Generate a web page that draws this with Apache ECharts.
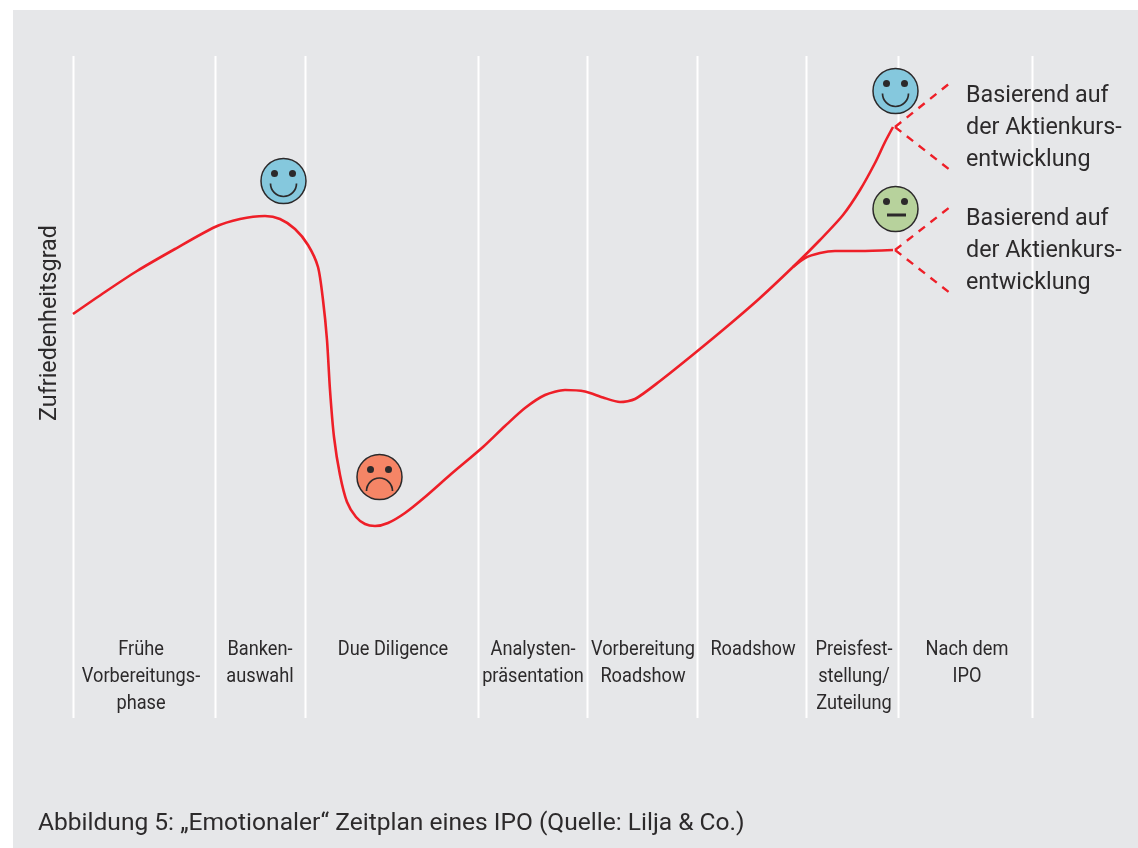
<!DOCTYPE html>
<html><head><meta charset="utf-8">
<style>html,body{margin:0;padding:0;background:#fff}#c{width:1138px;height:848px}</style>
<script src="https://cdn.jsdelivr.net/npm/echarts@6/dist/echarts.min.js"></script>
</head><body><div id="c"></div>
<script>
// Values: x = position along the timeline, y = satisfaction level
const mainCurve = [[0,404],[32,426],[64,447],[102,469],[142,491],[167,499],[192,502],[207,499],[222,489],[235,473],[245,451],[250,418],[254,378],[257,328],[261,281],[267,243],[274,216],[283,201],[292,194],[302,192],[315,195],[332,205],[352,221],[377,243],[410,271],[432,292],[452,310],[472,323],[492,328],[512,326.5],[530,320.5],[547,316],[562,319],[587,337],[622,365],[657,394],[687,420],[722,453],[747,478],[770,503],[787,528],[802,555],[812,576],[820,591]];
const neutralBranch = [[720,451],[732,460],[747,465],[762,467],[787,467],[820,468]];
const upperUp = [[822,591],[877,635]];
const upperDown = [[822,591],[877,548]];
const lowerUp = [[822,468],[877,511]];
const lowerDown = [[822,468],[877,425]];
const phaseBoundaries = [0,142,232,405,514,624,733,825,959];
const phaseLabels = ["Frühe\nVorbereitungs-\nphase","Banken-\nauswahl","Due Diligence","Analysten-\npräsentation","Vorbereitung\nRoadshow","Roadshow","Preisfest-\nstellung/\nZuteilung","Nach dem\nIPO"];
const phaseLabelX = [68,187,320,460,570,680,781,894];
const phaseLabelY = 82;
const faces = [[210,537,"happy"],[306,241,"sad"],[822,627,"happy"],[822,509,"neutral"]];
const faceColors = {happy:"#85c8dd",sad:"#f58566",neutral:"#b7d29c"};
const outcomeText = "Basierend auf\nder Aktienkurs-\nentwicklung";
const outcomeLabels = [[893,637.5],[893,515]];
const axisTitle = "Zufriedenheitsgrad";
const caption = "Abbildung 5: „Emotionaler“ Zeitplan eines IPO (Quelle: Lilja & Co.)";

const RED="#ee1f28", INK="#2c2a2b", PANEL="#e6e7e9";
const chart = echarts.init(document.getElementById('c'),null,{renderer:'canvas'});
const dashed = d => ({type:'line',data:d,symbol:'none',silent:true,lineStyle:{color:RED,width:2.4,type:[8,7]},z:3});
const solid = d => ({type:'line',data:d,symbol:'none',smooth:0.25,silent:true,lineStyle:{color:RED,width:2.6},z:4});
const textSeries = (data,render) => ({type:'custom',silent:true,z:7,clip:false,data,encode:{x:0,y:1},renderItem:render});

chart.setOption({
  animation:false,
  backgroundColor:'#fff',
  graphic:[
    {type:'rect',z:-10,silent:true,shape:{x:13,y:10,width:1125,height:838},style:{fill:PANEL}},
    {type:'text',z:10,silent:true,left:38,top:811,style:{text:caption,fill:INK,font:'24.55px Roboto'}}
  ],
  grid:{left:73,top:56,width:959,height:662,containLabel:false},
  xAxis:{type:'value',min:0,max:959,show:false},
  yAxis:{type:'value',min:0,max:662,show:false},
  series:[
    {type:'custom',silent:true,z:1,clip:false,data:phaseBoundaries.map(x=>[x]),encode:{x:0},
     renderItem:(p,api)=>{const a=api.coord([api.value(0),0]),b=api.coord([api.value(0),662]);
       return {type:'line',shape:{x1:a[0]+0.5,y1:a[1],x2:b[0]+0.5,y2:b[1]},style:{stroke:'#fff',lineWidth:2}};}},
    solid(mainCurve), solid(neutralBranch),
    dashed(upperUp), dashed(upperDown), dashed(lowerUp), dashed(lowerDown),
    {type:'custom',silent:true,z:6,clip:false,data:faces,encode:{x:0,y:1},
     renderItem:(p,api)=>{
       const c=api.coord([api.value(0),api.value(1)]),x=c[0]+0.5,y=c[1],mood=faces[p.dataIndex][2];
       const ink={stroke:INK,lineWidth:1.7,fill:null};
       const kids=[
         {type:'circle',shape:{cx:x,cy:y,r:22.5},style:{fill:faceColors[mood],stroke:INK,lineWidth:1.5}},
         {type:'circle',shape:{cx:x-9,cy:y-7.5,r:3.5},style:{fill:INK}},
         {type:'circle',shape:{cx:x+9,cy:y-7.5,r:3.5},style:{fill:INK}}];
       if(mood==='happy')kids.push({type:'arc',shape:{cx:x,cy:y+2.5,r:13,startAngle:0,endAngle:Math.PI},style:ink});
       if(mood==='sad')kids.push({type:'arc',shape:{cx:x,cy:y+14,r:13,startAngle:Math.PI,endAngle:2*Math.PI},style:ink});
       if(mood==='neutral')kids.push({type:'rect',shape:{x:x-8.5,y:y+4.5,width:19,height:3},style:{fill:INK}});
       return {type:'group',children:kids};
     }},
    textSeries(phaseLabels.map((t,i)=>[phaseLabelX[i],phaseLabelY]),(p,api)=>{
       const c=api.coord([api.value(0),api.value(1)]);
       return {type:'text',x:c[0],y:c[1]+0.5,scaleX:0.91,style:{text:phaseLabels[p.dataIndex],fill:INK,font:'20px Roboto',lineHeight:27,align:'center',verticalAlign:'top'}};
    }),
    textSeries(outcomeLabels,(p,api)=>{
       const c=api.coord([api.value(0),api.value(1)]);
       return {type:'text',x:c[0],y:c[1],style:{text:outcomeText,fill:INK,font:'23.3px Roboto',lineHeight:32,align:'left',verticalAlign:'top'}};
    }),
    textSeries([[-23,395]],(p,api)=>{
       const c=api.coord([api.value(0),api.value(1)]);
       return {type:'text',x:c[0],y:c[1],rotation:Math.PI/2,style:{text:axisTitle,fill:INK,font:'23.3px Roboto',align:'center',verticalAlign:'middle'}};
    })
  ]
});
</script></body></html>
